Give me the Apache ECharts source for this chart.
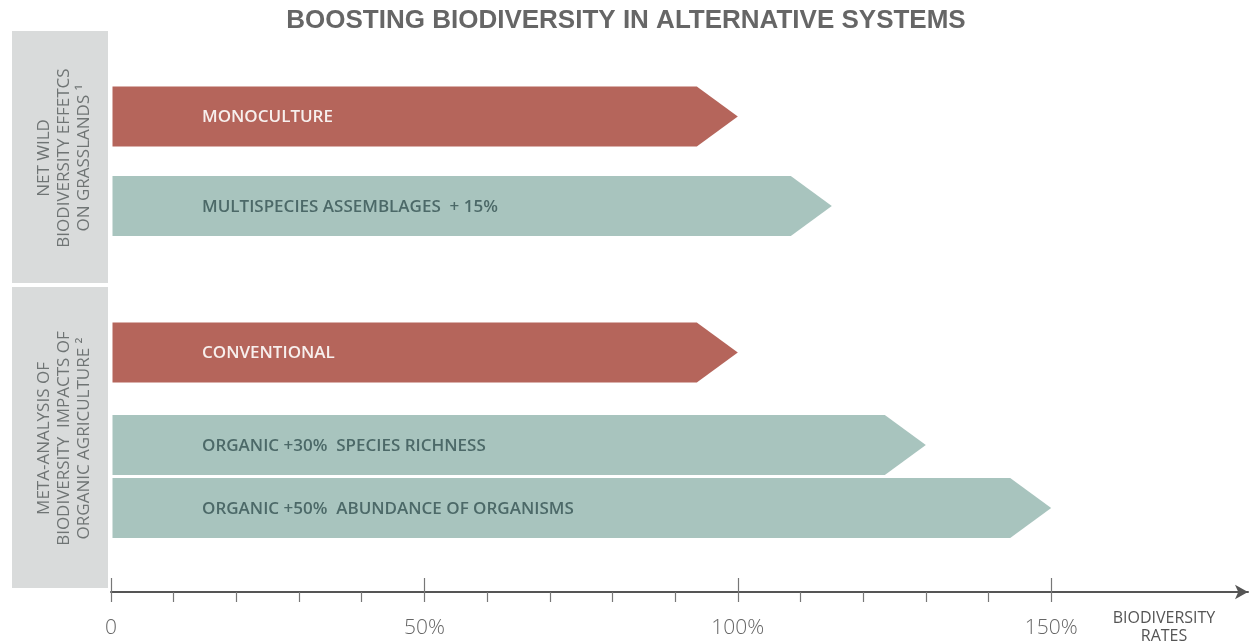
<!DOCTYPE html>
<html>
<head>
<meta charset="utf-8">
<title>Boosting biodiversity in alternative systems</title>
<script src="https://cdn.jsdelivr.net/npm/echarts@6/dist/echarts.min.js"></script>
<style>
  html, body { margin: 0; padding: 0; background: #ffffff; }
  #chart { width: 1252px; height: 644px; }
</style>
</head>
<body>
<div id="chart"></div>
<script>
// ---- data ----
const barLabels = [
  'MONOCULTURE',
  'MULTISPECIES ASSEMBLAGES  + 15%',
  'CONVENTIONAL',
  'ORGANIC +30%  SPECIES RICHNESS',
  'ORGANIC +50%  ABUNDANCE OF ORGANISMS'
];
const rates = [100, 115, 100, 130, 150];          // biodiversity rate, %
const kinds = ['baseline', 'alternative', 'baseline', 'alternative', 'alternative'];
const groupTitles = [
  'NET WILD\nBIODIVERSITY EFFETCS\nON GRASSLANDS \u00B9',
  'META-ANALYSIS OF\nBIODIVERSITY  IMPACTS OF\nORGANIC AGRICULTURE \u00B2'
];
const minorTicks = [0, 10, 20, 30, 40, 50, 60, 70, 80, 90, 100, 110, 120, 130, 140, 150];
const majorTicks = [0, 50, 100, 150];
const tickLabels = ['0', '50%', '100%', '150%'];
const axisTitle = 'BIODIVERSITY\nRATES';
const chartTitle = 'BOOSTING BIODIVERSITY IN ALTERNATIVE SYSTEMS';

// ---- layout ----
// rows are split over three grids so that the vertical rhythm can differ
const rowGrid = [0, 0, 1, 2, 2];
const grids = [
  { left: 111, right: 4, top: 71.75, height: 179 },
  { left: 111, right: 4, top: 321, height: 63 },
  { left: 111, right: 4, top: 413.5, height: 126 }
];
const AXIS_MAX = 181.4;
const HALF_H = 30;      // half bar thickness, px
const TIP_LEN = 41;     // arrow head length, px
const LABEL_INSET = 91; // label offset from bar start, px
const colors = {
  baseline: '#b5655b',
  alternative: '#a8c4be',
  baselineText: '#f7efed',
  alternativeText: '#4c6968',
  panel: '#d9dbdb',
  panelText: '#6f7474',
  axis: '#555555',
  title: '#666666'
};

const chart = echarts.init(document.getElementById('chart'), null, { renderer: 'canvas' });

function arrowItem(params, api) {
  const v = api.value(0);
  const c = api.value(1);
  const kind = api.value(2);
  const label = api.value(3);
  const start = api.coord([0, c]);
  const tip = api.coord([v, c]);
  const x0 = start[0] + 1.5;
  const y = tip[1];
  const neck = tip[0] - TIP_LEN;
  return {
    type: 'group',
    children: [
      {
        type: 'polygon',
        shape: {
          points: [
            [x0, y - HALF_H], [neck, y - HALF_H], [tip[0], y],
            [neck, y + HALF_H], [x0, y + HALF_H]
          ]
        },
        style: { fill: colors[kind] }
      },
      {
        type: 'text',
        style: {
          text: label,
          x: start[0] + LABEL_INSET,
          y: y + 1,
          align: 'left',
          verticalAlign: 'middle',
          fill: colors[kind + 'Text'],
          fontFamily: 'Open Sans',
          fontWeight: 600,
          fontSize: 17
        }
      }
    ]
  };
}

const xAxes = [];
const yAxes = [];
const series = [];
grids.forEach((g, gi) => {
  const rows = barLabels.map((_, i) => i).filter(i => rowGrid[i] === gi);
  xAxes.push({
    gridIndex: gi, type: 'value', min: 0, max: AXIS_MAX, show: false
  });
  yAxes.push({
    gridIndex: gi, type: 'category', inverse: true, show: false,
    data: rows.map(i => barLabels[i])
  });
  series.push({
    type: 'custom',
    xAxisIndex: gi,
    yAxisIndex: gi,
    renderItem: arrowItem,
    encode: { x: 0, y: 1 },
    silent: true,
    data: rows.map((i, k) => [rates[i], k, kinds[i], barLabels[i]])
  });
});

// visible rate axis under the last grid
const axisOffset = 592 - (grids[2].top + grids[2].height);
xAxes.push({
  gridIndex: 2, type: 'value', min: 0, max: AXIS_MAX, position: 'bottom',
  offset: axisOffset,
  splitLine: { show: false },
  axisLine: {
    show: true,
    lineStyle: { color: colors.axis, width: 2 },
    symbol: ['none', 'arrow'],
    symbolSize: [11, 13]
  },
  axisTick: {
    show: true, inside: false, length: 10,
    customValues: minorTicks,
    lineStyle: { color: '#777777', width: 1.2 }
  },
  axisLabel: {
    show: true,
    customValues: majorTicks,
    margin: 26,
    color: '#666666',
    fontFamily: 'Open Sans',
    fontWeight: 300,
    fontSize: 21,
    formatter: v => tickLabels[majorTicks.indexOf(v)]
  }
});
xAxes.push({
  gridIndex: 2, type: 'value', min: 0, max: AXIS_MAX, position: 'bottom',
  offset: axisOffset,
  splitLine: { show: false },
  axisLine: { show: false },
  axisLabel: { show: false },
  axisTick: {
    show: true, inside: true, length: 14,
    customValues: majorTicks,
    lineStyle: { color: '#777777', width: 1.2 }
  }
});
series.push({
  type: 'custom', xAxisIndex: 3, yAxisIndex: 2, data: [], renderItem: () => null
});

const panels = [
  { y: 31, h: 252 },
  { y: 287, h: 301 }
];
const graphic = [];
panels.forEach((p, i) => {
  graphic.push({
    type: 'rect', silent: true, z: -1,
    shape: { x: 12, y: p.y, width: 96, height: p.h },
    style: { fill: colors.panel }
  });
  graphic.push({
    type: 'text', silent: true,
    x: 64, y: p.y + p.h / 2 + 1,
    rotation: Math.PI / 2,
    style: {
      text: groupTitles[i],
      align: 'center',
      verticalAlign: 'middle',
      lineHeight: 20,
      fill: colors.panelText,
      fontFamily: 'Open Sans',
      fontSize: 17
    }
  });
});
graphic.push({
  type: 'text', silent: true,
  x: 1164, y: 627,
  style: {
    text: axisTitle,
    align: 'center',
    verticalAlign: 'middle',
    lineHeight: 18,
    fill: '#555555',
    fontFamily: 'Open Sans',
    fontSize: 16
  }
});

chart.setOption({
  animation: false,
  backgroundColor: '#ffffff',
  title: {
    text: chartTitle,
    left: 'center',
    top: 3,
    textStyle: {
      color: colors.title,
      fontFamily: 'Liberation Sans',
      fontWeight: 'bold',
      fontSize: 26
    }
  },
  grid: grids,
  xAxis: xAxes,
  yAxis: yAxes,
  series: series,
  graphic: graphic
});
</script>
</body>
</html>
